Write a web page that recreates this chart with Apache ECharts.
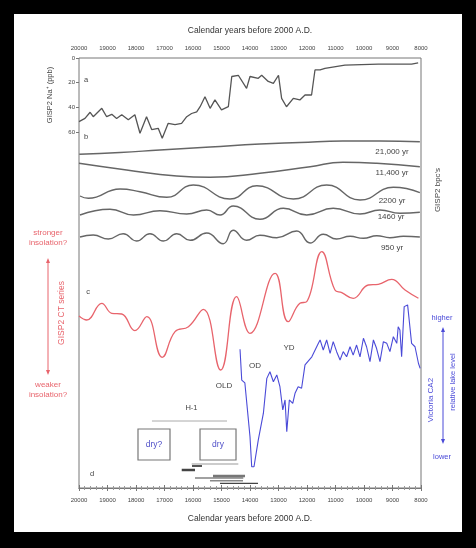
<!DOCTYPE html>
<html><head><meta charset="utf-8">
<script src="https://cdn.jsdelivr.net/npm/echarts@6/dist/echarts.min.js"></script>
<style>
html,body{margin:0;padding:0;background:#000;}
#bg{position:absolute;left:14px;top:14px;width:448px;height:518px;background:#fff;}
#chart{position:absolute;left:0;top:0;width:476px;height:548px;}
</style></head><body>
<div id="bg"></div><div id="chart"></div>
<script>
// ---------- DATA ----------
const xTickLabels = ['20000','19000','18000','17000','16000','15000','14000','13000','12000','11000','10000','9000','8000'];
const xTitle = 'Calendar years before 2000 A.D.';

// a: GISP2 Na+ (ppb)
const naData = [[20000,51.6],[19790,49],[19610,44],[19500,47.6],[19200,40.8],[19030,47.6],[18850,45.7],[18680,49],[18500,46],[18270,50],[18040,46],[17860,61],[17630,47.6],[17450,58],[17220,57],[17080,65],[16870,53],[16630,54],[16400,53],[16220,47.6],[16050,45],[15870,43.6],[15750,39.5],[15580,31.4],[15400,40.8],[15230,34],[15000,42],[14760,39.5],[14640,15],[14410,14],[14120,24.6],[14000,15],[13710,16.5],[13590,14],[13360,19],[13180,20.5],[13000,14],[12890,32.7],[12720,39.5],[12480,32.7],[12250,34],[12070,30],[11840,30],[11720,9.7],[11540,9.7],[11370,8.4],[10670,5.7],[9500,4.9],[8330,5],[8100,4]];

// b: GISP2 bpc's (anomalies)
const bpcNames = ['21,000 yr','11,400 yr','2200 yr','1460 yr','950 yr'];
const bpc21000 = [[19990,-6.3],[18560,-4.5],[17160,-2],[15400,1],[13650,4],[12250,5.5],[10740,7],[9440,7],[8040,6.3]];
const bpc11400 = [[20000,6.7],[18330,0],[16570,-6],[15400,-7.3],[13650,-3.3],[11890,3.3],[10740,7.7],[9550,6.7],[8040,3.3]];
const bpc2200 = [[19965,-4],[19670,-6.3],[18560,3],[17860,0.3],[16920,-5.3],[15990,7],[14700,-7],[13760,6.3],[12480,-7],[11310,7],[10140,-8],[8970,4.7],[8040,-0.7]];
const bpc1460 = [[19965,-3],[18910,2.7],[18090,-3],[17160,1.3],[16220,-2],[15520,2],[15050,-3],[14590,6],[13650,-7.3],[12830,3.7],[12010,-3],[11080,3.7],[10140,-2],[9440,2],[8740,-1.3],[8040,-0.3]];
const bpc950 = [[19965,0],[19500,2],[18970,-2],[18450,3.3],[17980,-4],[17510,3.3],[17040,-4],[16570,3.3],[16100,-3.3],[15520,4],[14940,-6.7],[14590,6.7],[14120,-3.3],[13650,1.7],[13060,-0.7],[12360,6],[11890,-6],[11430,2.7],[10960,-2],[10490,0.7],[10020,-1.3],[9550,1.3],[9090,-0.7],[8620,0.7],[8040,0]];

// c: GISP2 CT series
const ctData = [[20000,4],[19730,0],[19200,16.7],[18850,6.7],[18500,6],[18040,-10.7],[17620,3.3],[17080,-37.3],[16630,-11.7],[16160,-6.7],[15640,10.7],[15030,-50],[14470,23.3],[14000,-13.3],[13120,46.7],[12660,-1.7],[12250,16.7],[12010,18.3],[11480,68.3],[11020,30],[10780,27.3],[10380,21.7],[9850,35],[9500,35.7],[9030,40.7],[8560,30],[8090,21.7]];

// d: Victoria CA2 relative lake level
const lakeData = [[14350,71],[14290,52.9],[14180,51.2],[14000,19.6],[13940,1.9],[13860,1.9],[13710,17.6],[13530,33.4],[13410,53.9],[13300,57.8],[13180,51.9],[13060,55.9],[12950,49],[12850,35.3],[12770,41.2],[12710,22.5],[12620,41.2],[12500,39.2],[12420,45.1],[12310,49],[12190,48.1],[12070,61.8],[11830,66.6],[11600,74.5],[11540,76.5],[11430,70.6],[11310,76.5],[11190,68.6],[11080,75.5],[10960,69.6],[10840,64.7],[10730,69.6],[10610,66.6],[10490,72.5],[10380,67.6],[10260,73.5],[10140,66.6],[10020,77.5],[9910,72.5],[9790,63.7],[9670,76.5],[9560,71.6],[9440,63.7],[9320,75.5],[9200,74.5],[9090,69.6],[8970,78.4],[8850,74.5],[8800,84.3],[8740,82.4],[8680,66.6],[8590,96.1],[8470,97.1],[8390,84.3],[8330,74.5],[8210,72.5],[8090,62.8],[8030,59.8]];

// age ranges (cal yr) of dated events, H-1 span, dry intervals
const ageRanges = [[16046,14410],[16035,15684],[16396,15930],[15298,14175],[15930,14235],[15404,14246],[15053,13719]];
const h1Span = [17440,14807];
const dryBoxes = [[17930,16807,'dry?'],[15754,14491,'dry']];

// ---------- LAYOUT ----------
const L = 79, R = 55;
const bpcOffsets = [102, 80, 58, 38, 13];
const barRows = [64, 66, 70, 76, 78, 80.7, 83.3];
const barWidths = [1.2, 2, 2.5, 2.5, 1.2, 1.5, 1.2];
const barColors = ['#999','#555','#444','#777','#444','#888','#444'];
const FONT = 'Liberation Sans, Arial, sans-serif';
const RED = '#e8646c', BLUE = '#4a4ad8', DARK = '#555';

function hiddenX(g){ return {type:'value', gridIndex:g, min:8000, max:20000, inverse:true, show:false}; }
function visX(pos, gap, margin){
  return {type:'value', gridIndex:0, position:pos, min:8000, max:20000, interval:1000, inverse:true,
    name:xTitle, nameLocation:'middle', nameGap:gap, nameTextStyle:{fontSize:8.5,color:'#333',fontFamily:FONT},
    axisLine:{show:true,lineStyle:{color:'#777',width:1}},
    axisTick:{show:true,inside:true,length:3,lineStyle:{color:'#777'}},
    minorTick:{show:true,splitNumber:5,length:2,lineStyle:{color:'#999'}},
    splitLine:{show:false},
    axisLabel:{fontSize:6,color:'#444',margin:margin,fontFamily:FONT,
      formatter:v=>xTickLabels[Math.round((20000-v)/1000)] || ''}};
}

const chart = echarts.init(document.getElementById('chart'), null, {renderer:'canvas'});

const series = [];
series.push({type:'line', xAxisIndex:2, yAxisIndex:1, data:naData, symbol:'none', clip:false,
  lineStyle:{color:DARK,width:1.3}, z:3});
[bpc21000,bpc11400,bpc2200,bpc1460,bpc950].forEach((arr,i)=>{
  series.push({type:'line', xAxisIndex:3, yAxisIndex:2, symbol:'none', smooth:0.5, clip:false,
    data:arr.map(p=>[p[0], p[1]+bpcOffsets[i]]), lineStyle:{color:'#666',width:1.4}});
});
series.push({type:'line', xAxisIndex:4, yAxisIndex:3, data:ctData, symbol:'none', smooth:0.45, clip:false,
  lineStyle:{color:RED,width:1.3}});
series.push({type:'line', xAxisIndex:5, yAxisIndex:4, data:lakeData, symbol:'none', clip:false,
  lineStyle:{color:BLUE,width:1.1}});
// age bars
series.push({type:'custom', xAxisIndex:6, yAxisIndex:5, clip:false,
  data:ageRanges.map((r,i)=>[r[0],r[1],barRows[i],i]),
  renderItem:(params,api)=>{
    const i = api.value(3);
    const a = api.coord([api.value(0), api.value(2)]);
    const b = api.coord([api.value(1), api.value(2)]);
    return {type:'line', shape:{x1:a[0],y1:a[1],x2:b[0],y2:b[1]},
      style:{stroke:barColors[i], lineWidth:barWidths[i]}};
  }});
// H-1 line
series.push({type:'custom', xAxisIndex:6, yAxisIndex:5, clip:false,
  data:[[h1Span[0],h1Span[1],21]],
  renderItem:(params,api)=>{
    const a = api.coord([api.value(0), api.value(2)]);
    const b = api.coord([api.value(1), api.value(2)]);
    return {type:'group', children:[
      {type:'line', shape:{x1:a[0],y1:a[1],x2:b[0],y2:b[1]}, style:{stroke:'#aaa',lineWidth:1}},
      {type:'text', x:(a[0]+b[0])/2+2, y:a[1]-13, style:{text:'H-1',fontSize:7.5,fill:'#444',fontFamily:FONT,textAlign:'center',textVerticalAlign:'middle'}}
    ]};
  }});
// dry boxes
series.push({type:'custom', xAxisIndex:6, yAxisIndex:5, clip:false,
  data:dryBoxes.map(d=>[d[0],d[1],29,60]),
  renderItem:(params,api)=>{
    const a = api.coord([api.value(0), api.value(2)]);
    const b = api.coord([api.value(1), api.value(3)]);
    const label = dryBoxes[params.dataIndex][2];
    return {type:'group', children:[
      {type:'rect', shape:{x:a[0],y:a[1],width:b[0]-a[0],height:b[1]-a[1]}, style:{fill:'none',stroke:'#777',lineWidth:1.2}},
      {type:'text', x:(a[0]+b[0])/2, y:(a[1]+b[1])/2, style:{text:label,fontSize:8.5,fill:'#5050c8',fontFamily:FONT,textAlign:'center',textVerticalAlign:'middle'}}
    ]};
  }});

function txt(x,y,text,opt){
  opt = opt||{};
  return {type:'text', x:x, y:y, rotation:opt.rot||0, z:10,
    style:{text:text, fontSize:opt.size||7.5, fill:opt.color||'#444', fontFamily:FONT,
      textAlign:opt.align||'center', textVerticalAlign:'middle'}};
}
function vArrow(x,y1,y2,color){
  return [
    {type:'line', shape:{x1:x,y1:y1+3,x2:x,y2:y2-3}, style:{stroke:color,lineWidth:1}, z:10},
    {type:'polygon', shape:{points:[[x,y1],[x-2,y1+5],[x+2,y1+5]]}, style:{fill:color}, z:10},
    {type:'polygon', shape:{points:[[x,y2],[x-2,y2-5],[x+2,y2-5]]}, style:{fill:color}, z:10}
  ];
}

const graphics = [
  txt(86,80,'a'), txt(86,137,'b'), txt(88,292,'c'), txt(92,474,'d'),
  txt(392,152,bpcNames[0],{size:8}), txt(392,173,bpcNames[1],{size:8}), txt(392,201,bpcNames[2],{size:8}),
  txt(391,217,bpcNames[3],{size:8}), txt(392,248,bpcNames[4],{size:8}),
  txt(438,190,"GISP2 bpc's",{rot:Math.PI/2,size:8}),
  txt(48,233,'stronger',{color:RED,size:8}), txt(48,243,'insolation?',{color:RED,size:8}),
  ...vArrow(48,258,375,RED),
  txt(62,313,'GISP2 CT series',{rot:Math.PI/2,color:RED,size:8.5}),
  txt(48,385,'weaker',{color:RED,size:8}), txt(48,395,'insolation?',{color:RED,size:8}),
  txt(442,318,'higher',{color:BLUE}),
  ...vArrow(443,327,444,BLUE),
  txt(431,400,'Victoria CA2',{rot:Math.PI/2,color:BLUE,size:8}),
  txt(453,382,'relative lake level',{rot:Math.PI/2,color:BLUE}),
  txt(442,457,'lower',{color:BLUE}),
  txt(224,386,'OLD',{size:8}), txt(255,366,'OD',{size:8}), txt(289,348,'YD',{size:8})
];

chart.setOption({
  animation:false,
  textStyle:{fontFamily:FONT},
  grid:[
    {left:L,right:R,top:58,bottom:60,show:true,borderColor:'#777',borderWidth:1,backgroundColor:'transparent'},
    {left:L,right:R,top:58,height:74},
    {left:L,right:R,top:138,height:112},
    {left:L,right:R,top:250,height:130},
    {left:L,right:R,top:300,height:170},
    {left:L,right:R,top:400,height:88}
  ],
  xAxis:[visX('top',23,7), visX('bottom',26,9), hiddenX(1), hiddenX(2), hiddenX(3), hiddenX(4), hiddenX(5)],
  yAxis:[
    {type:'value',gridIndex:0,show:false,min:0,max:1},
    {type:'value',gridIndex:1,min:0,max:60,interval:20,inverse:true,position:'left',
      name:'GISP2 Na\u207A (ppb)',nameLocation:'middle',nameGap:25,nameTextStyle:{fontSize:7.5,color:'#444'},
      axisLine:{show:false},axisTick:{show:true,length:3,lineStyle:{color:'#777'}},
      splitLine:{show:false},axisLabel:{fontSize:6,color:'#444',margin:4}},
    {type:'value',gridIndex:2,show:false,min:0,max:112},
    {type:'value',gridIndex:3,show:false,min:-60,max:70},
    {type:'value',gridIndex:4,show:false,min:0,max:100},
    {type:'value',gridIndex:5,show:false,min:0,max:88,inverse:true}
  ],
  series:series,
  graphic:graphics
});
</script>
</body></html>
